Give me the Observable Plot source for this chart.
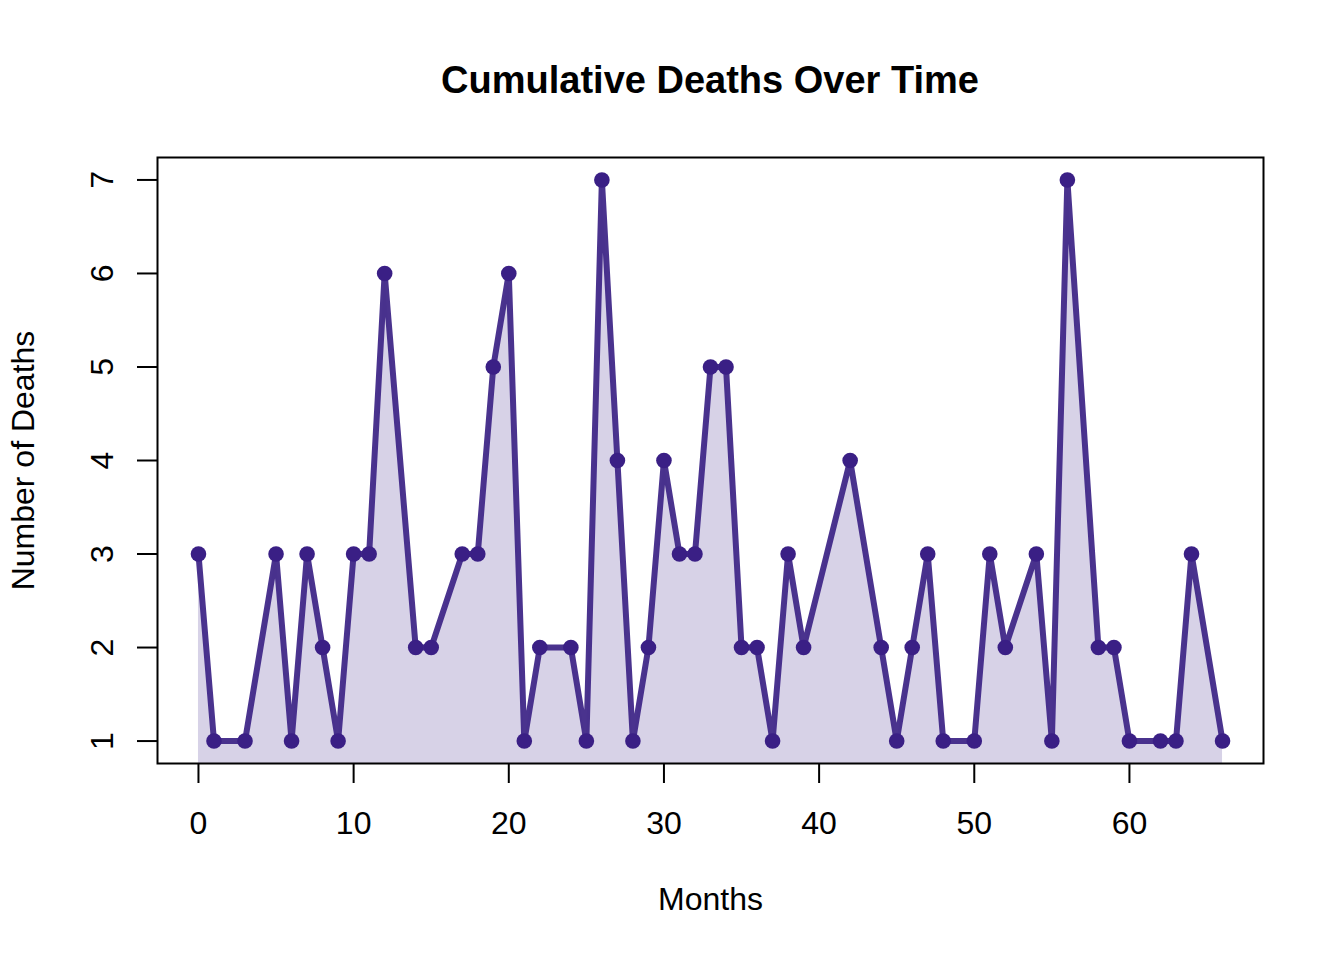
<!DOCTYPE html>
<html>
<head>
<meta charset="utf-8">
<script src="https://cdn.jsdelivr.net/npm/d3@7"></script>
<script src="https://cdn.jsdelivr.net/npm/@observablehq/plot@0.6"></script>
<style>
  html, body { margin: 0; padding: 0; background: #fff; }
  #title {
    box-sizing: border-box;
    width: 1344px; height: 130px;
    padding-top: 61px; padding-left: 76px;
    font-family: "Liberation Sans", Arial, sans-serif;
    font-weight: bold; font-size: 38px; line-height: 38px;
    text-align: center; color: #000;
  }
</style>
</head>
<body>
<div id="title">Cumulative Deaths Over Time</div>
<div id="chart"></div>
<script>
const months = [0,1,3,5,6,7,8,9,10,11,12,14,15,17,18,19,20,21,22,24,25,26,27,28,29,30,31,32,33,34,35,36,37,38,39,42,44,45,46,47,48,50,51,52,54,55,56,58,59,60,62,63,64,66];
const deaths = [3,1,1,3,1,3,2,1,3,3,6,2,2,3,3,5,6,1,2,2,1,7,4,1,2,4,3,3,5,5,2,2,1,3,2,4,2,1,2,3,1,1,3,2,3,1,7,2,2,1,1,1,3,1];
const xTicks = [0,10,20,30,40,50,60];
const yTicks = [1,2,3,4,5,6,7];
const xLabel = "Months";
const yLabel = "Number of Deaths";

const data = months.map((m, i) => ({month: m, deaths: deaths[i]}));
const lineColor = "#402888";
const dotColor = "#3a1f85";
const fillColor = "#d7d2e7";

const chart = Plot.plot({
  width: 1344,
  height: 830,
  marginTop: 27,
  marginBottom: 197,
  marginLeft: 157,
  marginRight: 81,
  style: {fontFamily: "Liberation Sans, Arial, sans-serif", fontSize: "32px", color: "#000", background: "#fff"},
  x: {domain: [-2.64, 68.64]},
  y: {domain: [0.76, 7.24]},
  marks: [
    Plot.areaY(data, {x: "month", y: "deaths", fill: fillColor, clip: true}),
    Plot.line(data, {x: "month", y: "deaths", stroke: lineColor, strokeWidth: 6, strokeOpacity: 0.95, strokeLinejoin: "round"}),
    Plot.dot(data, {x: "month", y: "deaths", r: 7.8, fill: dotColor, stroke: "none"}),
    Plot.frame({stroke: "#000", strokeWidth: 2}),
    Plot.axisX(xTicks, {anchor: "bottom", tickSize: 20, tickPadding: 28, strokeWidth: 2, stroke: "#000", fontSize: 32, tickFormat: d3.format("d"), label: null}),
    Plot.axisY(yTicks, {anchor: "left", tickSize: 20, tickPadding: 25, tickRotate: -90, strokeWidth: 2, stroke: "#000", fontSize: 32, tickFormat: d3.format("d"), label: null}),
    Plot.text([xLabel], {frameAnchor: "bottom", dy: 136, lineAnchor: "middle", textAnchor: "middle", fontSize: 32, fill: "#000"}),
    Plot.text([yLabel], {frameAnchor: "left", dx: -134, rotate: -90, lineAnchor: "middle", textAnchor: "middle", fontSize: 32, fill: "#000"})
  ]
});
document.getElementById("chart").appendChild(chart);
</script>
</body>
</html>
